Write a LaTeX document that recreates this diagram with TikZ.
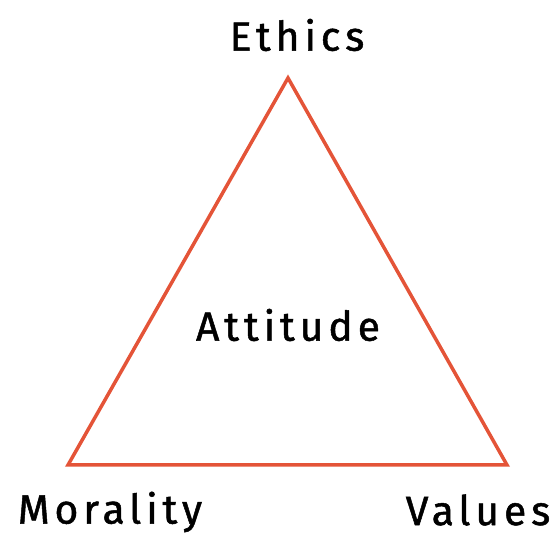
\documentclass[tikz,border=0pt]{standalone}
\usepackage{fontspec}
\setmainfont{Fira Sans}
\newfontfamily\handfont[LetterSpace=12,FakeBold=1.2]{Fira Sans}
\definecolor{edgered}{RGB}{228,84,56}

\begin{document}
\begin{tikzpicture}[x=1bp,y=1bp]

% Fix the page size
\useasboundingbox (0,0) rectangle (560,544);

% Label style
\tikzset{word/.style={font=\handfont\fontsize{41}{46}\selectfont, text=black, inner sep=0pt}}

% Triangle corners
\coordinate (E) at (288,466);
\coordinate (M) at (68,79);
\coordinate (V) at (507,79);

% Draw triangle
\draw[edgered, line width=3.5bp, line join=miter] (M) -- (V) -- (E) -- cycle;

% Labels
\node[word] (ethics) at (297,509) {Ethics};
\node[word] (morality) at (110,32) {Morality};
\node[word] (values) at (478,34) {Values};
\node[word] (attitude) at (288,219) {Attitude};

\end{tikzpicture}
\end{document}
